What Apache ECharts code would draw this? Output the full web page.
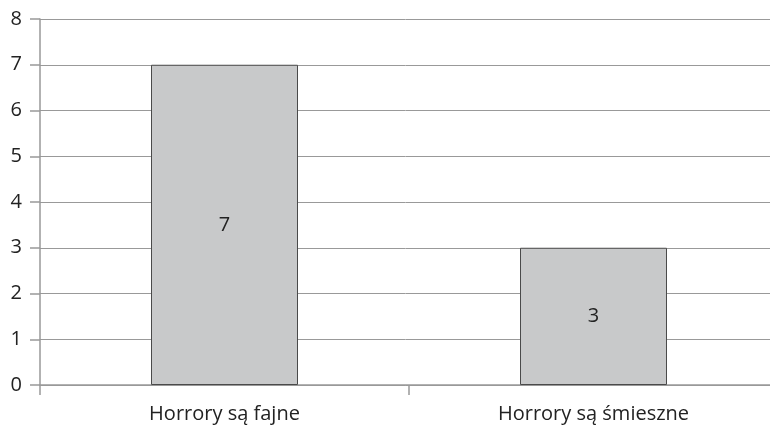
<!DOCTYPE html>
<html>
<head>
<meta charset="utf-8">
<script src="https://cdn.jsdelivr.net/npm/echarts@6/dist/echarts.min.js"></script>
<style>
  html, body { margin: 0; padding: 0; background: #fff; }
  #chart { width: 770px; height: 427px; }
</style>
</head>
<body>
<div id="chart"></div>
<script>
// Survey answers and their counts
const categories = ['Horrory są fajne', 'Horrory są śmieszne'];
const counts = [7, 3];
const yTicks = { min: 0, max: 8, interval: 1 };

const axisGray = '#999999';
const fontFamily = '"Open Sans", sans-serif';

const chart = echarts.init(document.getElementById('chart'));
chart.setOption({
  animation: false,
  grid: { left: 40, top: 19, width: 738, height: 366, outerBoundsMode: 'none', containLabel: false },
  xAxis: {
    type: 'category',
    data: categories,
    boundaryGap: true,
    axisLine: { lineStyle: { color: axisGray, width: 1.5 } },
    axisTick: { show: true, length: 10, lineStyle: { color: axisGray, width: 1.5 } },
    axisLabel: { color: '#222', fontSize: 20, fontFamily: fontFamily, margin: 19 }
  },
  yAxis: {
    type: 'value',
    min: yTicks.min,
    max: yTicks.max,
    interval: yTicks.interval,
    axisLine: { show: true, lineStyle: { color: axisGray, width: 1.5 } },
    axisTick: { show: true, length: 10, lineStyle: { color: axisGray, width: 1.5 } },
    axisLabel: { color: '#222', fontSize: 20, fontFamily: fontFamily, margin: 18 },
    splitLine: { lineStyle: { color: axisGray, width: 1 } }
  },
  series: [{
    type: 'bar',
    data: counts,
    barWidth: 147,
    itemStyle: { color: '#c8c9ca', borderColor: '#4a4a4a', borderWidth: 1 },
    label: {
      show: true,
      position: 'inside',
      color: '#222',
      fontSize: 20,
      fontFamily: fontFamily
    }
  }]
});
</script>
</body>
</html>
